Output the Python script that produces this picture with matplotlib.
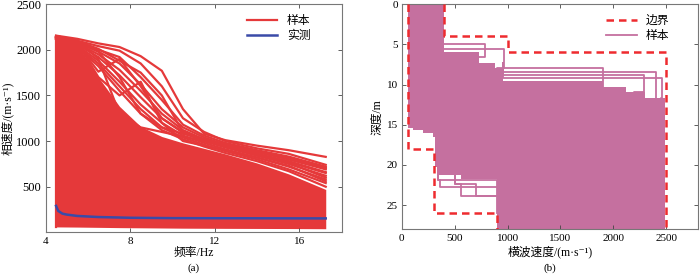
import numpy as np
import matplotlib
matplotlib.use("Agg")
from matplotlib import pyplot as plt

plt.rcParams['font.family'] = ['Liberation Serif', 'Noto Sans CJK SC', 'DejaVu Serif']
plt.rcParams['axes.unicode_minus'] = False

# ---- (a) dispersion curves ----
freq = [4.5, 5.5, 6.5, 7.5, 8.5, 9.5, 10.5, 11.5, 12.5, 14.0, 15.5, 17.25]
sample_low = [60, 58, 55, 52, 50, 48, 46, 45, 44, 43, 42, 40]
sample_solid_top = [2130, 2060, 1700, 1380, 1160, 1050, 980, 920, 860, 760, 640, 470]
sample_curves = [
    [2155, 2120, 2070, 2030, 1930, 1770, 1350, 1080, 1010, 950, 900, 827],
    [2150, 2100, 2040, 1990, 1850, 1600, 1250, 1100, 1000, 920, 860, 740],
    [2145, 2090, 2000, 1920, 1700, 1450, 1180, 1060, 980, 900, 830, 720],
    [2140, 2080, 1980, 1850, 1620, 1350, 1150, 1040, 960, 880, 800, 690],
    [2135, 2070, 1950, 1780, 1550, 1300, 1120, 1020, 950, 860, 780, 660],
    [2130, 2060, 1920, 1720, 1480, 1250, 1090, 1000, 930, 840, 750, 620],
    [2125, 2050, 1880, 1650, 1400, 1200, 1060, 980, 910, 820, 720, 580],
    [2120, 2040, 1850, 1600, 1350, 1150, 1040, 960, 890, 800, 690, 540],
    [2115, 2030, 1820, 1550, 1300, 1120, 1020, 940, 870, 780, 670, 500],
    [2150, 2100, 1900, 1300, 1150, 1100, 1050, 1000, 960, 880, 800, 700],
    [2140, 2090, 1980, 1700, 1300, 1150, 1080, 1020, 970, 890, 820, 710],
    [2145, 2095, 2010, 1880, 1750, 1500, 1100, 1000, 940, 850, 770, 650],
    [2140, 2060, 1760, 1900, 1600, 1250, 1100, 1010, 950, 860, 760, 600],
    [2130, 2080, 1700, 1500, 1650, 1200, 1000, 950, 900, 820, 730, 560],
]
meas_freq = [4.5, 4.6, 4.8, 5.0, 5.5, 6.5, 8.0, 10.0, 12.0, 17.25]
meas_vel = [290, 235, 205, 195, 180, 168, 160, 156, 155, 153]

# ---- (b) shear-wave velocity profiles ----
bound_low_v = [60, 60, 300, 300, 900, 900]
bound_low_d = [0, 18, 18, 26, 26, 28]
bound_up_v = [400, 400, 1000, 1000, 2500, 2500]
bound_up_d = [0, 4, 4, 6, 6, 28]

vmin_edges = [0, 15.4, 15.7, 16.0, 16.5, 20.3, 21.2, 21.8, 28]
vmin_vals = [62, 109, 203, 297, 312, 343, 560, 900]
vmax_edges = [0, 5.9, 7.3, 8.0, 9.6, 10.3, 10.9, 11.7, 28]
vmax_vals = [400, 730, 880, 960, 1900, 2120, 2300, 2490]

# single profiles: layer velocities and layer boundaries
profiles = [
    ([380, 791, 700], [0, 4.9, 6.6, 8]),
    ([390, 962, 900], [0, 5.6, 8.0, 10]),
    ([960, 1907, 1800], [7.3, 8.0, 10.7, 12]),
    ([960, 2407, 2300], [7.3, 8.4, 11.9, 13]),
    ([960, 2291, 2200], [7.3, 8.8, 10.9, 12]),
    ([960, 2463, 2450], [7.3, 9.2, 11.7, 13]),
    ([343, 360, 950], [20, 21.9, 22.7, 26]),
    ([343, 900], [20, 21.9, 26]),
    ([500, 563, 950], [21, 22.3, 23.9, 26]),
    ([500, 697, 950], [21, 22.3, 23.9, 26]),
]

red = '#E5393A'
blue = '#3A4BA8'
pink = '#C5709F'
dash_red = '#EE2B2F'
spine_col = '#777777'

fig = plt.figure(figsize=(7, 2.75), dpi=100)
ax1 = fig.add_axes([0.065, 0.155, 0.423, 0.830])
ax2 = fig.add_axes([0.574, 0.166, 0.423, 0.819])

# (a)
ax1.fill_between(freq, sample_low, sample_solid_top, color=red, lw=0)
for c in sample_curves:
    ax1.plot(freq, c, color=red, lw=1.6)
ax1.plot([freq[0], freq[0]], [sample_low[0], sample_curves[0][0]], color=red, lw=1.6)
ax1.plot([], [], color=red, lw=1.6, label='样本')
ax1.plot(meas_freq, meas_vel, color=blue, lw=1.8, label='实测')
ax1.set_xlim(4, 18)
ax1.set_ylim(0, 2500)
ax1.set_xticks([4, 8, 12, 16])
ax1.set_yticks([500, 1000, 1500, 2000, 2500])
ax1.set_xlabel('频率/Hz', fontsize=8.5, labelpad=1)
ax1.set_ylabel('相速度/(m·s⁻¹)', fontsize=8.5, labelpad=2)
ax1.legend(loc='upper right', bbox_to_anchor=(0.93, 1.0), frameon=False,
           fontsize=8.5, handlelength=2.6, labelspacing=0.3)

# (b)
d_all = np.array(sorted(set(vmin_edges) | set(vmax_edges)))
lo = [vmin_vals[min(np.searchsorted(vmin_edges, d, side='right') - 1, len(vmin_vals) - 1)] for d in d_all]
hi = [vmax_vals[min(np.searchsorted(vmax_edges, d, side='right') - 1, len(vmax_vals) - 1)] for d in d_all]
ax2.fill_betweenx(d_all, lo, hi, step='post', color=pink, lw=0)
for v, b in profiles:
    xs, ys = [], []
    for i, vi in enumerate(v):
        xs += [vi, vi]
        ys += [b[i], b[i + 1]]
    ax2.plot(xs, ys, color=pink, lw=1.3)
ax2.plot(bound_low_v, bound_low_d, color=dash_red, lw=1.8, ls=(0, (3, 2)), label='边界', zorder=5)
ax2.plot(bound_up_v, bound_up_d, color=dash_red, lw=1.8, ls=(0, (3, 2)), zorder=5)
ax2.plot([], [], color=pink, lw=1.3, label='样本')
ax2.set_xlim(0, 2800)
ax2.set_ylim(28, 0)
ax2.set_xticks([0, 500, 1000, 1500, 2000, 2500])
ax2.set_yticks([0, 5, 10, 15, 20, 25])
ax2.set_xlabel('横波速度/(m·s⁻¹)', fontsize=8.5, labelpad=2)
ax2.set_ylabel('深度/m', fontsize=8.5, labelpad=2)
ax2.legend(loc='upper right', bbox_to_anchor=(0.94, 1.0), frameon=False,
           fontsize=8.5, handlelength=2.6, labelspacing=0.3)

for ax in (ax1, ax2):
    ax.tick_params(direction='in', top=True, right=True, labelsize=8, length=3,
                   width=0.6, color='#444444', pad=3)
    for s in ax.spines.values():
        s.set_color(spine_col)
        s.set_linewidth(0.8)
ax1.tick_params(axis='y', labelsize=9)

fig.text(0.277, 0.008, '(a)', ha='center', va='bottom', fontsize=8)
fig.text(0.786, 0.008, '(b)', ha='center', va='bottom', fontsize=8)

fig.savefig('out.png', dpi=100)
